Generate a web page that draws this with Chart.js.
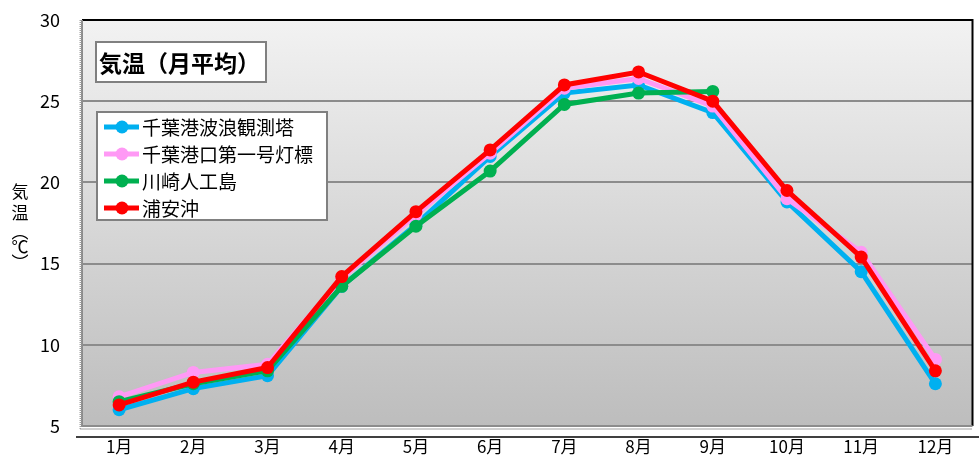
<!DOCTYPE html>
<html>
<head>
<meta charset="utf-8">
<script src="https://cdn.jsdelivr.net/npm/chart.js@4.4.1/dist/chart.umd.min.js"></script>
<style>
  html, body { margin: 0; padding: 0; background: #fff; }
  #wrap { width: 979px; height: 462px; position: relative; }
</style>
</head>
<body>
<div id="wrap"><canvas id="tempChart"></canvas></div>
<script>
// 月ごとの平均気温 (℃)
const months = ['1月', '2月', '3月', '4月', '5月', '6月', '7月', '8月', '9月', '10月', '11月', '12月'];
const chibaWaveTower = [6.0, 7.3, 8.1, 13.6, 17.4, 21.6, 25.5, 26.0, 24.3, 18.8, 14.5, 7.6];
const chibaLighthouse = [6.8, 8.3, 8.8, 14.1, 18.0, 21.8, 25.8, 26.4, 24.7, 19.0, 15.7, 9.1];
const kawasakiIsland = [6.5, 7.6, 8.4, 13.6, 17.3, 20.7, 24.8, 25.5, 25.6, null, null, null];
const urayasuOffshore = [6.3, 7.7, 8.6, 14.2, 18.2, 22.0, 26.0, 26.8, 25.0, 19.5, 15.4, 8.4];
const yTicks = [5, 10, 15, 20, 25, 30];

const FONT = '"Noto Sans CJK JP", "Noto Sans", sans-serif';

function series(label, data, color, order) {
    return {
        label, data, order,
        borderColor: color,
        backgroundColor: color,
        pointBackgroundColor: color,
        pointBorderWidth: 0,
        pointRadius: 6.5,
        borderWidth: 5,
        tension: 0,
        spanGaps: false
    };
}

// background, frame, title box, legend box and axis title
const decorations = {
    id: 'decorations',
    beforeDraw(chart) {
        const { ctx, chartArea: a } = chart;
        const g = ctx.createLinearGradient(0, a.top, 0, a.bottom);
        g.addColorStop(0, '#f2f2f2');
        g.addColorStop(1, '#bdbdbd');
        ctx.save();
        ctx.fillStyle = g;
        ctx.fillRect(a.left, a.top, a.right - a.left, a.bottom - a.top);
        ctx.restore();
    },
    afterDatasetsDraw(chart) {
        const { ctx, chartArea: a } = chart;
        ctx.save();
        // top and right borders
        ctx.strokeStyle = '#000';
        ctx.lineWidth = 2;
        ctx.beginPath();
        ctx.moveTo(a.left, a.top);
        ctx.lineTo(a.right, a.top);
        ctx.lineTo(a.right, a.bottom);
        ctx.stroke();
        // left & bottom gray borders
        ctx.strokeStyle = '#8c8c8c';
        ctx.lineWidth = 2;
        ctx.beginPath();
        ctx.moveTo(a.left, a.top);
        ctx.lineTo(a.left, a.bottom);
        ctx.lineTo(a.right, a.bottom);
        ctx.stroke();
        // dotted edges
        ctx.strokeStyle = '#a0a0a0';
        ctx.lineWidth = 2;
        ctx.setLineDash([1, 1]);
        ctx.beginPath();
        ctx.moveTo(a.left - 1.5, a.top);
        ctx.lineTo(a.left - 1.5, a.bottom + 3);
        ctx.moveTo(a.left - 1.5, a.bottom + 3);
        ctx.lineTo(a.right, a.bottom + 3);
        ctx.stroke();
        ctx.setLineDash([]);
        // axis base line
        ctx.strokeStyle = '#000';
        ctx.lineWidth = 1.5;
        ctx.beginPath();
        ctx.moveTo(a.left - 6, a.bottom + 11);
        ctx.lineTo(979, a.bottom + 11);
        ctx.stroke();

        // title box
        ctx.fillStyle = '#fff';
        ctx.fillRect(96, 42, 170, 40);
        ctx.strokeStyle = '#808080';
        ctx.lineWidth = 2;
        ctx.strokeRect(96, 42, 170, 40);
        ctx.fillStyle = '#000';
        ctx.font = 'bold 23px ' + FONT;
        ctx.textBaseline = 'middle';
        ctx.textAlign = 'left';
        ctx.fillText('気温（月平均）', 99, 63);

        // legend box
        ctx.fillStyle = '#fff';
        ctx.fillRect(97, 112, 230, 108);
        ctx.strokeRect(97, 112, 230, 108);
        const ds = chart.data.datasets;
        ctx.font = '19px ' + FONT;
        ds.forEach((d, i) => {
            const y = 127 + i * 27;
            ctx.strokeStyle = d.borderColor;
            ctx.lineWidth = 5;
            ctx.beginPath();
            ctx.moveTo(104, y);
            ctx.lineTo(139, y);
            ctx.stroke();
            ctx.fillStyle = d.borderColor;
            ctx.beginPath();
            ctx.arc(122, y, 6.5, 0, Math.PI * 2);
            ctx.fill();
            ctx.fillStyle = '#000';
            ctx.fillText(d.label, 142, y + 1);
        });

        // vertical y-axis title
        ctx.font = '17px ' + FONT;
        ctx.textAlign = 'center';
        ctx.fillStyle = '#000';
        const chars = ['気', '温', '︵', '℃', '︶'];
        const ys = [192, 213, 232, 247, 263];
        chars.forEach((c, i) => ctx.fillText(c, 20, ys[i]));
        ctx.restore();
    }
};

new Chart(document.getElementById('tempChart'), {
    type: 'line',
    data: {
        labels: months,
        datasets: [
            series('千葉港波浪観測塔', chibaWaveTower, '#00b0f0', 4),
            series('千葉港口第一号灯標', chibaLighthouse, '#ff99f5', 3),
            series('川崎人工島', kawasakiIsland, '#00b050', 2),
            series('浦安沖', urayasuOffshore, '#ff0000', 1)
        ]
    },
    options: {
        responsive: true,
        maintainAspectRatio: false,
        animation: false,
        layout: { padding: { top: 20, right: 2, left: 0, bottom: 0 } },
        plugins: {
            legend: { display: false },
            tooltip: { enabled: false }
        },
        scales: {
            x: {
                offset: true,
                grid: { display: false, drawTicks: false },
                border: { display: false },
                ticks: { color: '#000', padding: 10, font: { family: FONT, size: 17 } },
                afterFit(s) { s.height = 36; s.paddingLeft = 0; s.paddingRight = 0; }
            },
            y: {
                min: 5,
                max: 30,
                afterBuildTicks(s) { s.ticks = yTicks.map(v => ({ value: v })); },
                grid: {
                    drawTicks: false,
                    lineWidth: 2,
                    color: c => (c.tick && c.tick.value > 5 && c.tick.value < 30) ? '#8c8c8c' : 'rgba(0,0,0,0)'
                },
                border: { display: false },
                ticks: { color: '#000', padding: 22, font: { family: FONT, size: 18 } },
                afterFit(s) { s.width = 82; s.paddingTop = 0; s.paddingBottom = 0; }
            }
        }
    },
    plugins: [decorations]
});
</script>
</body>
</html>
